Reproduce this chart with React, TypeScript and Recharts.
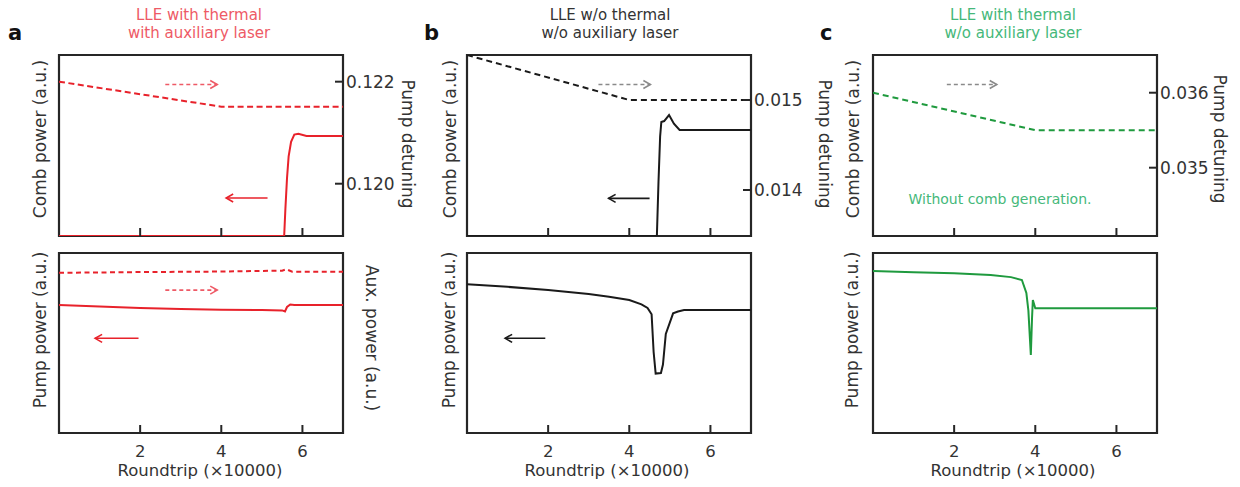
import React from 'react'
import { ComposedChart, Line, XAxis, YAxis, ReferenceArea, ReferenceLine } from 'recharts'

const RED = '#e8222b'
const PINK = '#ee5a66'
const BLACK = '#1a1a1a'
const GRAY = '#8a8a8a'
const GREEN = '#1f9a3e'
const GREEN_T = '#45b87a'
const FRAME = '#262626'
const FONT = '"DejaVu Sans", Arial, sans-serif'

// roundtrip (x10000)
const xTicks = [2, 4, 6]

// a: LLE with thermal, with auxiliary laser
const aDetX = [0, 4, 7]
const aDetY = [0.122, 0.12151, 0.12151]
const aDetTicks = [0.12, 0.122]
const aCombX = [0, 5.55, 5.58, 5.62, 5.66, 5.72, 5.8, 5.9, 6.1, 7]
const aCombY = [0, 0, 0.15, 0.32, 0.44, 0.52, 0.56, 0.565, 0.553, 0.552]
const aPumpX = [0, 1, 2, 3, 4, 5, 5.5, 5.57, 5.62, 5.7, 5.8, 7]
const aPumpY = [0.711, 0.703, 0.695, 0.689, 0.685, 0.683, 0.681, 0.675, 0.7, 0.714, 0.711, 0.711]
const aAuxX = [0, 2, 4, 5.5, 5.6, 5.75, 7]
const aAuxY = [0.89, 0.894, 0.897, 0.902, 0.91, 0.896, 0.896]

// b: LLE w/o thermal, w/o auxiliary laser
const bDetX = [0, 4, 7]
const bDetY = [0.0155, 0.015, 0.015]
const bDetTicks = [0.014, 0.015]
const bCombX = [0, 4.68, 4.72, 4.76, 4.79, 4.86, 4.98, 5.1, 5.24, 7]
const bCombY = [0, 0, 0.3, 0.55, 0.63, 0.635, 0.668, 0.62, 0.586, 0.586]
const bPumpX = [0, 1, 2, 3, 3.5, 4, 4.3, 4.45, 4.55, 4.6, 4.65, 4.78, 4.83, 4.9, 5.08, 5.2, 5.35, 7]
const bPumpY = [0.826, 0.812, 0.794, 0.772, 0.757, 0.739, 0.715, 0.695, 0.66, 0.45, 0.33, 0.333, 0.38, 0.55, 0.665, 0.675, 0.683, 0.683]

// c: LLE with thermal, w/o auxiliary laser
const cDetX = [0, 4, 7]
const cDetY = [0.036, 0.0355, 0.0355]
const cDetTicks = [0.035, 0.036]
const cPumpX = [0, 1, 2, 2.9, 3.4, 3.67, 3.78, 3.83, 3.86, 3.89, 3.92, 3.94, 4.0, 7]
const cPumpY = [0.9, 0.893, 0.887, 0.878, 0.866, 0.85, 0.778, 0.68, 0.556, 0.433, 0.64, 0.739, 0.693, 0.693]

// direction arrows: [from x, to x, level on the 0..1 axis]
const aTopArrows = [[2.62, 3.9, 0.837], [5.14, 4.12, 0.21]]
const aBotArrows = [[2.62, 3.9, 0.794], [1.96, 0.89, 0.526]]
const bTopArrows = [[3.24, 4.52, 0.837], [4.5, 3.49, 0.208]]
const bBotArrows = [[1.93, 0.94, 0.526]]
const cTopArrows = [[1.82, 3.05, 0.837]]

const zip = (xs: number[], ys: number[]) => xs.map((x, i) => ({ x, y: ys[i] }))

const BOX_W = 284
const RW = 60

const XTick = (p: any) => (
  <g>
    <line x1={p.x} x2={p.x} y1={p.y} y2={p.y - 8} stroke={FRAME} strokeWidth={2} />
    {p.showLabel && (
      <text x={p.x} y={p.y + 24} textAnchor="middle" fontSize={16.5} fill="#333" fontFamily={FONT}>
        {p.payload.value}
      </text>
    )}
  </g>
)

const RTick = (p: any) => (
  <g>
    <line x1={p.x - 8} x2={p.x} y1={p.y} y2={p.y} stroke={FRAME} strokeWidth={2} />
    <text x={p.x + 3} y={p.y + 6} textAnchor="start" fontSize={17} fill="#333" fontFamily={FONT}>
      {Number(p.payload.value).toFixed(3)}
    </text>
  </g>
)

const arrowShape = (color: string, dashed: boolean) => (p: any) => {
  const { x1, y1, x2, y2 } = p
  const d = Math.sign(x2 - x1)
  return (
    <g>
      <line x1={x1} y1={y1} x2={x2} y2={y2} stroke={color} strokeWidth={1.6} strokeDasharray={dashed ? '4 3' : undefined} />
      <polyline points={`${x2 - d * 7},${y2 - 4} ${x2},${y2} ${x2 - d * 7},${y2 + 4}`} fill="none" stroke={color} strokeWidth={1.6} />
    </g>
  )
}

type Series = { data: { x: number; y: number }[]; color: string; dash?: string; axis: 'l' | 'r' }
type Arrow = { a: number[]; color: string; dashed: boolean }

function Subplot(props: {
  left: number
  top: number
  boxH: number
  bottom: boolean
  rDomain: number[]
  rTicks: number[]
  series: Series[]
  arrows: Arrow[]
}) {
  const xh = props.bottom ? 40 : 6
  return (
    <div style={{ position: 'absolute', left: props.left - 5, top: props.top - 5 }}>
      <ComposedChart width={5 + BOX_W + RW} height={5 + props.boxH + xh} margin={{ top: 5, left: 5, right: 0, bottom: 0 }}>
        <XAxis
          dataKey="x"
          type="number"
          domain={[0, 7]}
          ticks={xTicks}
          interval={0}
          allowDataOverflow
          height={xh}
          axisLine={false}
          tickLine={false}
          tickSize={0}
          tickMargin={0}
          tick={(p: any) => <XTick {...p} showLabel={props.bottom} />}
        />
        <YAxis yAxisId="l" hide type="number" domain={[0, 1]} allowDataOverflow />
        <YAxis
          yAxisId="r"
          orientation="right"
          type="number"
          width={RW}
          domain={props.rDomain}
          ticks={props.rTicks}
          interval={0}
          allowDataOverflow
          axisLine={false}
          tickLine={false}
          tickSize={0}
          tickMargin={0}
          tick={props.rTicks.length ? (p: any) => <RTick {...p} /> : false}
        />
        <ReferenceArea yAxisId="l" x1={0} x2={7} y1={0} y2={1} fill="none" stroke={FRAME} strokeWidth={2.2} />
        {props.series.map((s, i) => (
          <Line
            key={i}
            data={s.data}
            dataKey="y"
            yAxisId={s.axis}
            type="linear"
            stroke={s.color}
            strokeWidth={2}
            strokeDasharray={s.dash}
            dot={false}
            activeDot={false}
            isAnimationActive={false}
          />
        ))}
        {props.arrows.map((ar, i) => (
          <ReferenceLine
            key={'ar' + i}
            yAxisId="l"
            segment={[
              { x: ar.a[0], y: ar.a[2] },
              { x: ar.a[1], y: ar.a[2] },
            ]}
            shape={arrowShape(ar.color, ar.dashed)}
          />
        ))}
      </ComposedChart>
    </div>
  )
}

const VText = ({ x, y, up, children, color = '#333' }: any) => (
  <text
    transform={`translate(${x},${y}) rotate(${up ? -90 : 90})`}
    textAnchor="middle"
    fontSize={17}
    fill={color}
    fontFamily={FONT}
  >
    {children}
  </text>
)

export default function App() {
  return (
    <div style={{ position: 'absolute', left: 0, top: 0, width: 1240, height: 487, background: '#fff', fontFamily: FONT }}>
      <Subplot
        left={59}
        top={55}
        boxH={181}
        bottom={false}
        rDomain={[0.118975, 0.122523]}
        rTicks={aDetTicks}
        series={[
          { data: zip(aDetX, aDetY), color: RED, dash: '6 3.5', axis: 'r' },
          { data: zip(aCombX, aCombY), color: RED, axis: 'l' },
        ]}
        arrows={[
          { a: aTopArrows[0], color: PINK, dashed: true },
          { a: aTopArrows[1], color: RED, dashed: false },
        ]}
      />
      <Subplot
        left={59}
        top={253}
        boxH={180}
        bottom
        rDomain={[0, 1]}
        rTicks={[]}
        series={[
          { data: zip(aAuxX, aAuxY), color: RED, dash: '5 3.5', axis: 'r' },
          { data: zip(aPumpX, aPumpY), color: RED, axis: 'l' },
        ]}
        arrows={[
          { a: aBotArrows[0], color: PINK, dashed: true },
          { a: aBotArrows[1], color: RED, dashed: false },
        ]}
      />
      <Subplot
        left={467}
        top={55}
        boxH={181}
        bottom={false}
        rDomain={[0.013489, 0.0155]}
        rTicks={bDetTicks}
        series={[
          { data: zip(bDetX, bDetY), color: BLACK, dash: '6 4', axis: 'r' },
          { data: zip(bCombX, bCombY), color: BLACK, axis: 'l' },
        ]}
        arrows={[
          { a: bTopArrows[0], color: GRAY, dashed: true },
          { a: bTopArrows[1], color: BLACK, dashed: false },
        ]}
      />
      <Subplot
        left={467}
        top={253}
        boxH={180}
        bottom
        rDomain={[0, 1]}
        rTicks={[]}
        series={[{ data: zip(bPumpX, bPumpY), color: BLACK, axis: 'l' }]}
        arrows={[{ a: bBotArrows[0], color: BLACK, dashed: false }]}
      />
      <Subplot
        left={873}
        top={55}
        boxH={181}
        bottom={false}
        rDomain={[0.034089, 0.036503]}
        rTicks={cDetTicks}
        series={[{ data: zip(cDetX, cDetY), color: GREEN, dash: '6 4', axis: 'r' }]}
        arrows={[{ a: cTopArrows[0], color: GRAY, dashed: true }]}
      />
      <Subplot
        left={873}
        top={253}
        boxH={180}
        bottom
        rDomain={[0, 1]}
        rTicks={[]}
        series={[{ data: zip(cPumpX, cPumpY), color: GREEN, axis: 'l' }]}
        arrows={[]}
      />

      <svg width={1240} height={487} style={{ position: 'absolute', left: 0, top: 0, pointerEvents: 'none' }}>
        <g fontFamily={FONT} fontWeight="bold" fontSize={21} fill="#111">
          <text x={8} y={40}>a</text>
          <text x={424} y={40}>b</text>
          <text x={820} y={40}>c</text>
        </g>
        <g fontFamily={FONT} fontSize={15} textAnchor="middle">
          <text x={199} y={20} fill={PINK}>LLE with thermal</text>
          <text x={199} y={38} fill={PINK}>with auxiliary laser</text>
          <text x={610} y={20} fill="#333">LLE w/o thermal</text>
          <text x={610} y={38} fill="#333">w/o auxiliary laser</text>
          <text x={1013} y={20} fill={GREEN_T}>LLE with thermal</text>
          <text x={1013} y={38} fill={GREEN_T}>w/o auxiliary laser</text>
        </g>
        <text x={1000} y={204} textAnchor="middle" fontSize={14} fill={GREEN_T} fontFamily={FONT}>
          Without comb generation.
        </text>

        <VText x={46} y={139} up>Comb power (a.u.)</VText>
        <VText x={46} y={330} up>Pump power (a.u.)</VText>
        <VText x={456} y={139} up>Comb power (a.u.)</VText>
        <VText x={455} y={330} up>Pump power (a.u.)</VText>
        <VText x={859} y={139} up>Comb power (a.u.)</VText>
        <VText x={858} y={330} up>Pump power (a.u.)</VText>

        <VText x={402} y={144}>Pump detuning</VText>
        <VText x={366} y={338}>Aux. power (a.u.)</VText>
        <VText x={819} y={144}>Pump detuning</VText>
        <VText x={1214} y={139}>Pump detuning</VText>

        <g fontFamily={FONT} fontSize={16.5} fill="#333" textAnchor="middle">
          <text x={200} y={476}>Roundtrip (×10000)</text>
          <text x={607} y={476}>Roundtrip (×10000)</text>
          <text x={1013} y={476}>Roundtrip (×10000)</text>
        </g>
      </svg>
    </div>
  )
}
